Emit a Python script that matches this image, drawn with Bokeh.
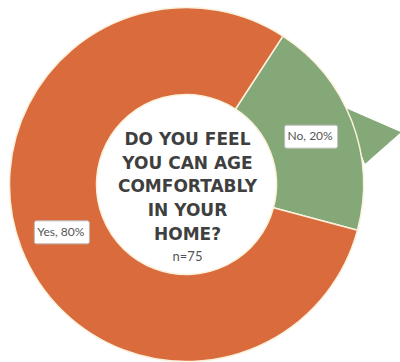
import math
from bokeh.plotting import figure
from bokeh.models import ColumnDataSource, Range1d
from bokeh.core.properties import value
from bokeh.embed import file_html
from bokeh.resources import INLINE

# ---- data ----
categories = ["No", "Yes"]
percents = [20, 80]
colors = ["#84A877", "#D96B3D"]
question = "DO YOU FEEL\nYOU CAN AGE\nCOMFORTABLY\nIN YOUR\nHOME?"
sample_note = "n=75"

# ---- geometry / style ----
W, H = 400, 362
CX, CY = 186, H - 184
R_IN, R_OUT = 90, 177
START_CW = 33.0  # first slice starts this many degrees clockwise from 12 o'clock

def math_angle(cw_deg):
    return math.radians(90.0 - cw_deg)

total = float(sum(percents))
starts, ends, mids, lx, ly, texts = [], [], [], [], [], []
a = START_CW
for cat, v in zip(categories, percents):
    span = 360.0 * v / total
    starts.append(math_angle(a))
    ends.append(math_angle(a + span))
    m = a + span / 2.0
    mids.append(m)
    rr = (R_IN + R_OUT) / 2.0
    lx.append(CX + rr * math.sin(math.radians(m)))
    ly.append(CY + rr * math.cos(math.radians(m)))
    texts.append(f"{cat}, {v}%")
    a += span

src = ColumnDataSource(dict(cat=categories, start=starts, end=ends,
                            color=colors, lx=lx, ly=ly, text=texts))

p = figure(width=W, height=H, x_range=Range1d(0, W), y_range=Range1d(0, H),
           output_backend="svg", toolbar_location=None, min_border=0)
p.axis.visible = False
p.grid.visible = False
p.outline_line_color = None
p.background_fill_color = "white"
p.border_fill_color = "white"

# pointer shape on the "No" slice
m0 = mids[0]
pts = [(m0 - 5.0, R_OUT - 2), (m0 + 7.3, 220.0), (m0 + 14.2, R_OUT + 3)]
pxs = [CX + r * math.sin(math.radians(ang)) for ang, r in pts]
pys = [CY + r * math.cos(math.radians(ang)) for ang, r in pts]
p.patch(pxs, pys, fill_color=colors[0], line_color=colors[0], line_width=1)

p.annular_wedge(x=CX, y=CY, inner_radius=R_IN, outer_radius=R_OUT,
                start_angle="start", end_angle="end", direction="clock",
                fill_color="color", line_color="#FBF1DC", line_width=1.5,
                source=src)

p.text(x="lx", y="ly", text="text", source=src,
       text_font=value("Lato"), text_font_size="12px", text_color="#555555",
       text_align="center", text_baseline="middle",
       background_fill_color="white", border_line_color="#BBBBBB",
       border_line_width=1, padding=[3, 5, 3, 5], border_radius=2)

p.text(x=[CX + 1], y=[H - 186], text=[question],
       text_font=value("DejaVu Sans"), text_font_style="bold",
       text_font_size="17px", text_color="#3F3F3F",
       text_align="center", text_baseline="middle", text_line_height=1.18)

p.text(x=[CX + 1], y=[H - 255], text=[sample_note],
       text_font=value("Lato"), text_font_size="13px", text_color="#555555",
       text_align="center", text_baseline="middle")

open("out.html", "w").write(file_html(p, INLINE))
